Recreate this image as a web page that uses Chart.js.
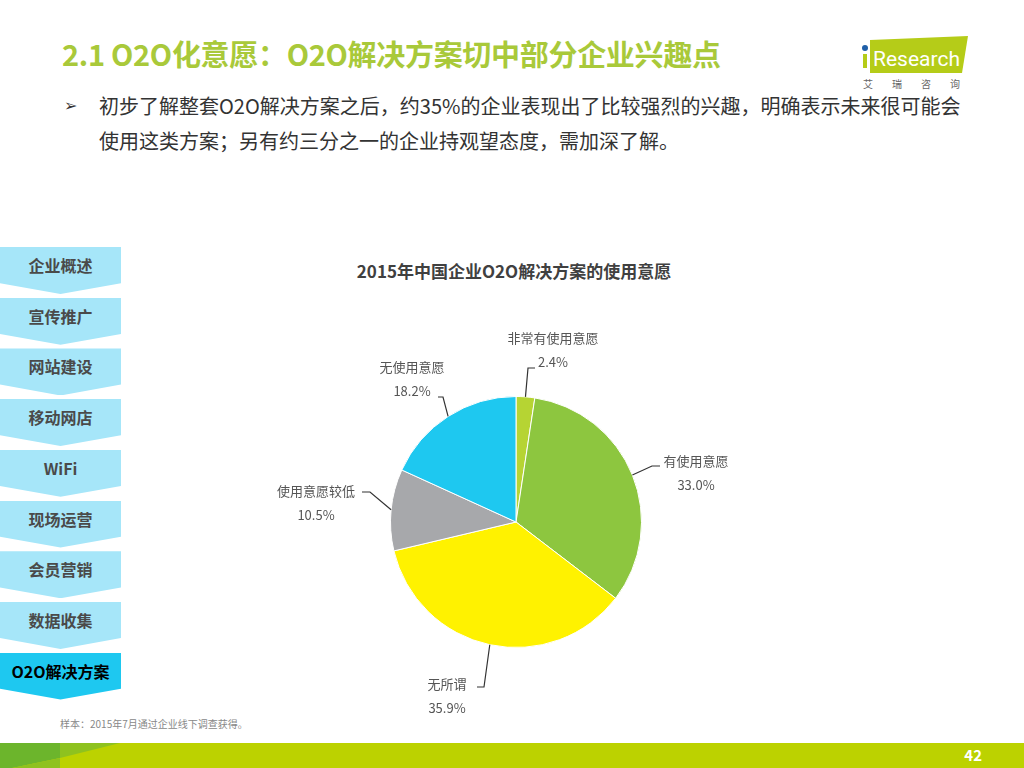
<!DOCTYPE html>
<html>
<head>
<meta charset="utf-8">
<script src="https://cdn.jsdelivr.net/npm/chart.js@4"></script>
<style>
  body { margin: 0; width: 1024px; height: 768px; position: relative; overflow: hidden; background: #fff;
         font-family: "Noto Sans CJK SC", "Noto Sans", sans-serif; }
  .abs { position: absolute; white-space: nowrap; }
  #title { left: 62px; top: 32px; font-size: 29px; font-weight: bold; color: #a9c93a; letter-spacing: -0.3px; }
  .bullet { left: 64px; top: 92px; font-size: 16px; color: #333; }
  .txt { left: 99px; font-size: 20px; color: #333; }
  #chartTitle { left: 0; width: 1028px; text-align: center; top: 258px; font-size: 17px; font-weight: bold; color: #404040; }
  .step { position: absolute; left: 0; width: 121px; height: 47px; background: #a6e6f9;
          clip-path: polygon(0 0, 100% 0, 100% 77%, 50% 100%, 0 77%); }
  .step span { position: absolute; left: 0; width: 121px; top: 6px; text-align: center; font-size: 16px; font-weight: bold; color: #4a4a4a; }
  .step.on { background: #1ec8f0; }
  .step.on span { color: #000; }
  #note { left: 60px; top: 716px; font-size: 10px; color: #888; }
  #bar { left: 0; top: 743px; width: 1024px; height: 25px; background: #bcd200; }
  #page { right: 42px; top: 744px; font-size: 15px; font-weight: bold; color: #fff; }
  #wrap { left: 250px; top: 300px; width: 532px; height: 444px; }
</style>
</head>
<body>
<div id="title" class="abs">2.1 O2O化意愿：O2O解决方案切中部分企业兴趣点</div>

<svg class="abs" style="left:856px;top:34px" width="120" height="58">
  <polygon points="14,6 112,2 106,39 14,39" fill="#b5cc18"/>
  <circle cx="9" cy="14" r="3" fill="#1f5fa8"/>
  <rect x="7" y="20" width="4" height="14" fill="#b5cc18"/>
  <text x="17" y="32" font-family="Roboto, sans-serif" font-size="21" fill="#fff">Research</text>
  <text x="7" y="54" font-family="Noto Sans CJK SC" font-size="10" fill="#666" letter-spacing="19">艾瑞咨询</text>
</svg>

<div class="abs bullet">➢</div>
<div class="abs txt" style="top:91px">初步了解整套O2O解决方案之后，约35%的企业表现出了比较强烈的兴趣，明确表示未来很可能会</div>
<div class="abs txt" style="top:126px">使用这类方案；另有约三分之一的企业持观望态度，需加深了解。</div>

<div id="steps"></div>

<div id="chartTitle" class="abs">2015年中国企业O2O解决方案的使用意愿</div>
<div id="wrap" class="abs"><canvas id="pieChart" width="532" height="444"></canvas></div>

<div id="note" class="abs">样本：2015年7月通过企业线下调查获得。</div>
<div id="bar" class="abs"></div>
<svg class="abs" style="left:0;top:743px" width="200" height="25">
  <polygon points="0,0 60,0 60,15 12,25 0,25" fill="#6cb52c"/>
  <polygon points="60,0 60,15 12,25 100,25 60,25" fill="#8ec21f"/>
  <polygon points="60,0 120,0 60,15" fill="#8ec21f"/>
</svg>
<div id="page" class="abs">42</div>

<script>
const steps = ["企业概述", "宣传推广", "网站建设", "移动网店", "WiFi", "现场运营", "会员营销", "数据收集", "O2O解决方案"];

const labels = ["非常有使用意愿", "有使用意愿", "无所谓", "使用意愿较低", "无使用意愿"];
const values = [2.4, 33.0, 35.9, 10.5, 18.2];
const colors = ["#b6d433", "#8dc63f", "#fff200", "#a7a8ab", "#1ec8f0"];

// leader-line styling: elbow, line end, and text anchor offsets relative to pie centre
const leaderStyle = [
  { elbow: [12, -154], end: [19, -154], text: [37, -184] },
  { elbow: [136, -56], end: [144, -56], text: [180, -61] },
  { elbow: [-32, 165], end: [-39, 165], text: [-69, 162] },
  { elbow: [-146, -30], end: [-154, -30], text: [-200, -31] },
  { elbow: [-73, -125], end: [-78, -125], text: [-104, -155] }
];

const stepBox = document.getElementById("steps");
steps.forEach((s, i) => {
  const d = document.createElement("div");
  d.className = "step" + (i === steps.length - 1 ? " on" : "");
  d.style.top = (247 + i * 50.7) + "px";
  d.innerHTML = "<span>" + s + "</span>";
  stepBox.appendChild(d);
});

const leaderLabels = {
  id: "leaderLabels",
  afterDraw(chart) {
    const ctx = chart.ctx;
    const meta = chart.getDatasetMeta(0);
    ctx.save();
    ctx.font = "13px 'Noto Sans CJK SC', sans-serif";
    ctx.textAlign = "center";
    ctx.textBaseline = "middle";
    meta.data.forEach((arc, i) => {
      const p = arc.getProps(["x", "y", "startAngle", "endAngle", "outerRadius"], true);
      const mid = (p.startAngle + p.endAngle) / 2;
      const ex = p.x + Math.cos(mid) * p.outerRadius;
      const ey = p.y + Math.sin(mid) * p.outerRadius;
      const st = leaderStyle[i];
      ctx.strokeStyle = "#333";
      ctx.lineWidth = 1.2;
      ctx.beginPath();
      ctx.moveTo(ex, ey);
      ctx.lineTo(p.x + st.elbow[0], p.y + st.elbow[1]);
      ctx.lineTo(p.x + st.end[0], p.y + st.end[1]);
      ctx.stroke();
      ctx.fillStyle = "#555";
      ctx.fillText(chart.data.labels[i], p.x + st.text[0], p.y + st.text[1]);
      ctx.fillText(values[i].toFixed(1) + "%", p.x + st.text[0], p.y + st.text[1] + 24);
    });
    ctx.restore();
  }
};

new Chart(document.getElementById("pieChart"), {
  type: "pie",
  data: {
    labels: labels,
    datasets: [{
      data: values,
      backgroundColor: colors,
      borderColor: "#fff",
      borderWidth: 1
    }]
  },
  options: {
    responsive: false,
    animation: false,
    layout: { padding: { top: 96, bottom: 96, left: 140, right: 140 } },
    plugins: {
      legend: { display: false },
      tooltip: { enabled: false }
    }
  },
  plugins: [leaderLabels]
});
</script>
</body>
</html>
